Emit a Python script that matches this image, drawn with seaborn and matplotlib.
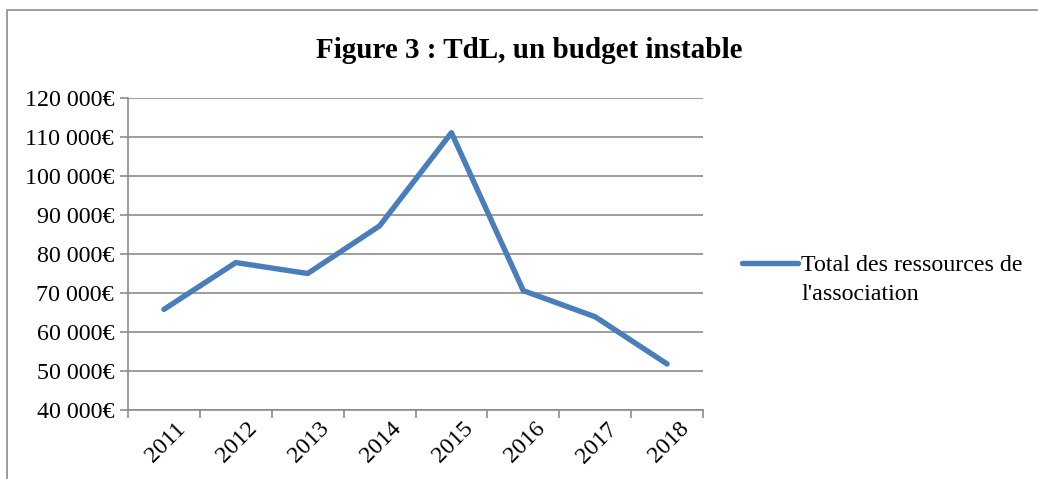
import matplotlib
matplotlib.use("Agg")
import matplotlib.pyplot as plt
import matplotlib.ticker as mticker
from matplotlib.patches import Rectangle
import seaborn as sns
import pandas as pd

years = ["2011", "2012", "2013", "2014", "2015", "2016", "2017", "2018"]
ressources = [65800, 77800, 75000, 87200, 111100, 70600, 63900, 51800]
series_label = "Total des ressources de"
series_label_2 = "l'association"
title = "Figure 3 : TdL, un budget instable"

sns.set_theme(style="white")
plt.rcParams["font.family"] = ["Liberation Serif", "DejaVu Serif"]
plt.rcParams["text.color"] = "black"
plt.rcParams["xtick.color"] = "black"
plt.rcParams["ytick.color"] = "black"

FS = 17.3
W, H = 1038, 479
fig = plt.figure(figsize=(W / 100, H / 100), dpi=100)
fig.patch.set_facecolor("white")

# outer chart border (partially cropped)
fig.patches.append(Rectangle((7 / W, -0.1), 1.2, 1 - 10 / H + 0.1,
                             transform=fig.transFigure, fill=False,
                             edgecolor="#8c8c8c", linewidth=1.2))

ax = fig.add_axes([128 / W, 1 - 410 / H, (703 - 128) / W, (410 - 98) / H])

df = pd.DataFrame({"Année": years, "Ressources": ressources})
sns.lineplot(data=df, x="Année", y="Ressources", ax=ax, color="#4a7ebb",
             linewidth=3.9, solid_capstyle="round", label=series_label,
             sort=False)

grid_c = "#8c8c8c"
ax.set_xlim(-0.5, len(years) - 0.5)
ax.set_ylim(40000, 120000)
ax.yaxis.set_major_locator(mticker.MultipleLocator(10000))
ax.yaxis.set_major_formatter(mticker.FuncFormatter(
    lambda v, p: f"{int(v):,}".replace(",", " ") + "€"))
ax.yaxis.grid(True, color=grid_c, linewidth=1.2)
ax.xaxis.grid(False)
ax.set_axisbelow(True)

ax.set_xticks(range(len(years)))
ax.set_xticklabels(years, rotation=45, ha="right", rotation_mode="anchor",
                   fontsize=FS)
ax.set_xticks([i - 0.5 for i in range(len(years) + 1)], minor=True)
ax.tick_params(axis="x", which="major", length=0, pad=6, labelcolor="black")
ax.tick_params(axis="x", which="minor", length=6, width=1.2, color=grid_c,
               direction="out", bottom=True)
ax.tick_params(axis="y", length=6, width=1.2, color=grid_c, direction="out",
               left=True, labelsize=FS, pad=4, labelcolor="black")
for lbl in ax.get_xticklabels():
    lbl.set_transform(lbl.get_transform() +
                      matplotlib.transforms.ScaledTranslation(11 / 100, 0, fig.dpi_scale_trans))

for s in ["top", "right"]:
    ax.spines[s].set_visible(False)
for s in ["left", "bottom"]:
    ax.spines[s].set_color(grid_c)
    ax.spines[s].set_linewidth(1.2)
ax.set_xlabel("")
ax.set_ylabel("")

leg = ax.legend(loc="center left", bbox_to_anchor=(742 / W, 1 - 265 / H),
                bbox_transform=fig.transFigure, frameon=False, fontsize=FS,
                handlelength=2.35, handletextpad=0.12, borderpad=0,
                borderaxespad=0)
for t in leg.get_texts():
    t.set_color("black")
fig.text(802 / W, 1 - 294 / H, series_label_2, fontsize=FS, va="center",
         ha="left", color="black")

fig.text(529 / W, 1 - 50 / H, title, fontsize=21, fontweight="bold",
         ha="center", va="center", color="black")

fig.savefig("out.png", dpi=100)
